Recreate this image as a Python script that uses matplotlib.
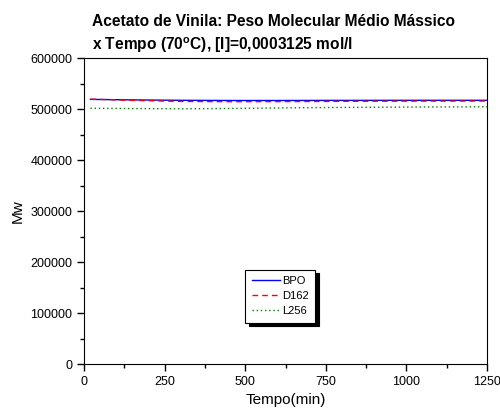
import numpy as np
import matplotlib.pyplot as plt
from matplotlib.ticker import MultipleLocator

plt.rcParams['font.family'] = ['Liberation Sans', 'DejaVu Sans']

t = [20, 150, 300, 450, 600, 750, 900, 1050, 1250]
bpo = [519000, 518000, 517200, 516800, 516800, 517000, 517100, 517200, 517200]
d162 = [519500, 517000, 515000, 514400, 514600, 515000, 515400, 515600, 515700]
l256 = [501500, 501000, 500500, 501200, 502200, 503000, 503600, 504000, 504500]

fig = plt.figure(figsize=(5, 4.09), dpi=100)
ax = fig.add_axes([0.168, 0.110, 0.806, 0.748])
ax.plot(t, bpo, color='blue', lw=1, label='BPO')
ax.plot(t, d162, color='red', lw=1, ls=(0, (4, 3)), label='D162')
ax.plot(t, l256, color='green', lw=1, ls=(0, (1, 2)), label='L256')

ax.set_xlim(0, 1250)
ax.set_ylim(0, 600000)
ax.xaxis.set_major_locator(MultipleLocator(250))
ax.xaxis.set_minor_locator(MultipleLocator(125))
ax.yaxis.set_major_locator(MultipleLocator(100000))
ax.yaxis.set_minor_locator(MultipleLocator(50000))
ax.tick_params(which='both', direction='out', labelsize=9, width=1)
ax.tick_params(which='major', length=5)
ax.tick_params(which='minor', length=3)
ax.set_xlabel('Tempo(min)', fontsize=11)
ax.set_ylabel('Mw', fontsize=11)
ax.set_title('Acetato de Vinila: Peso Molecular Médio Mássico\nx Tempo (70$^{\\mathregular{o}}$C), [I]=0,0003125 mol/l',
             fontsize=11.2, fontweight='bold', loc='left', x=0.02, linespacing=1.45)

leg = ax.legend(loc='lower left', bbox_to_anchor=(0.400, 0.134), borderaxespad=0,
                fontsize=8, fancybox=False,
                shadow={'color': 'black', 'alpha': 1, 'ox': 2.5, 'oy': -2.5}, framealpha=1,
                handlelength=2.5, handletextpad=0.2, borderpad=0.6, labelspacing=0.45)
leg.get_frame().set_edgecolor('black')
leg.get_frame().set_linewidth(0.8)

fig.savefig('out.png', dpi=100)
